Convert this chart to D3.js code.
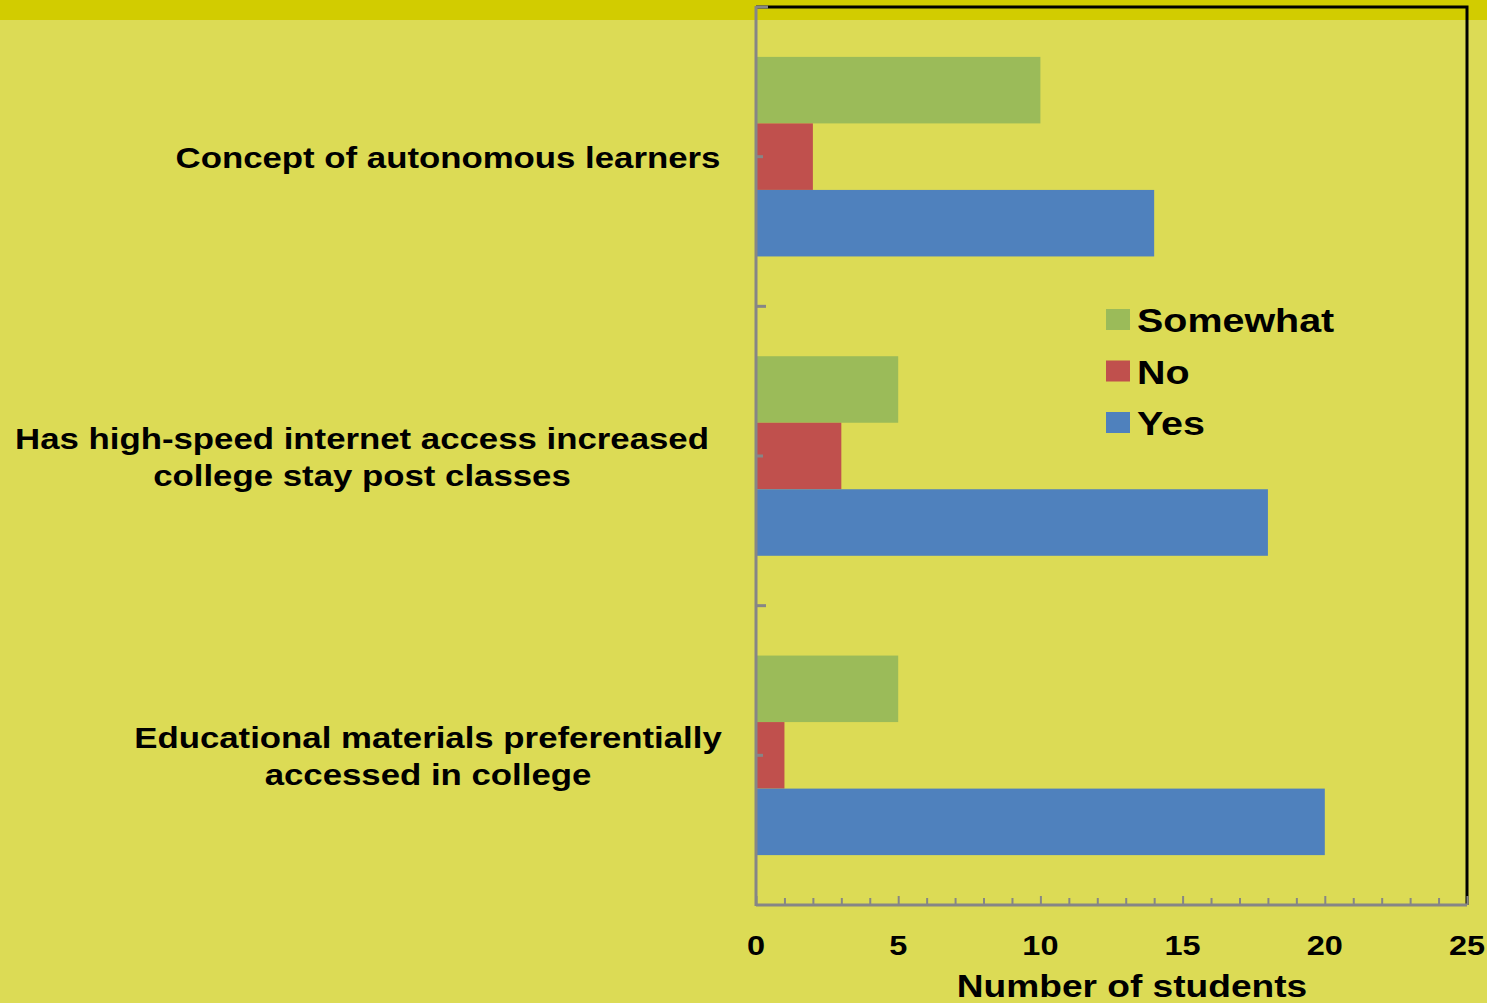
<!DOCTYPE html>
<html><head><meta charset="utf-8">
<script src="https://cdn.jsdelivr.net/npm/d3@7"></script>
<style>
html,body{margin:0;padding:0;background:#dcdb55;overflow:hidden}
text{font-family:"Liberation Sans",Arial,sans-serif;font-weight:bold;fill:#000}
</style></head>
<body><svg id="c" width="1487" height="1003"></svg>
<script>
const categories = [
  ["Concept of autonomous learners"],
  ["Has high-speed internet access increased", "college stay post classes"],
  ["Educational materials preferentially", "accessed in college"]
];
const series = ["Somewhat", "No", "Yes"];
const somewhatValues = [10, 5, 5];
const noValues = [2, 3, 1];
const yesValues = [14, 18, 20];
const xTicks = [0, 5, 10, 15, 20, 25];
const xTitle = "Number of students";
const colors = {Somewhat: "#9bbb59", No: "#c0504d", Yes: "#4f81bd"};
const valuesBySeries = {Somewhat: somewhatValues, No: noValues, Yes: yesValues};

const W = 1487, H = 1003;
const m = {left: 756, right: 1467, top: 7, bottom: 905};
const SX = 1.16; // horizontal text stretch
const svg = d3.select("#c");

svg.append("rect").attr("x",0).attr("y",0).attr("width",W).attr("height",H).attr("fill","#dcdb55");
svg.append("rect").attr("x",0).attr("y",0).attr("width",W).attr("height",20).attr("fill","#d2cc00");

const x = d3.scaleLinear().domain([0,25]).range([m.left, m.right]);
const y0 = d3.scaleBand().domain(d3.range(categories.length)).range([m.top, m.bottom]).padding(0);
const y1 = d3.scaleBand().domain(series).range([0, y0.bandwidth()]).paddingInner(0).paddingOuter(0.75);

function stext(g, tx, ty, str, size, anchor){
  return g.append("text").attr("transform", `translate(${tx},${ty}) scale(${SX},1)`)
    .attr("text-anchor", anchor).style("font-size", size+"px").text(str);
}

// bars
categories.forEach((c, i) => {
  series.forEach(s => {
    svg.append("rect")
      .attr("x", x(0))
      .attr("y", y0(i) + y1(s))
      .attr("width", x(valuesBySeries[s][i]) - x(0))
      .attr("height", y1.bandwidth())
      .attr("fill", colors[s]);
  });
});

// black border top & right
svg.append("path").attr("d", `M${m.left},${m.top}H${m.right}V${m.bottom}`)
  .attr("fill","none").attr("stroke","#000").attr("stroke-width",3);

// axes
const gray = "#868686";
const xAxis = d3.axisBottom(x).tickValues(d3.range(0,26,1)).tickSize(-7).tickFormat("");
const gx = svg.append("g").attr("transform", `translate(0,${m.bottom})`).call(xAxis);
gx.select(".domain").attr("stroke", gray).attr("stroke-width",3).attr("d", `M${m.left},0H${m.right}`);
gx.selectAll(".tick line").attr("stroke", gray).attr("stroke-width",2)
  .attr("y2", d => d % 5 === 0 ? -9 : -7);

xTicks.forEach(t => stext(svg, x(t), 955, String(t), 28, "middle"));

// left axis
const gy = svg.append("g");
gy.append("line").attr("x1",m.left).attr("x2",m.left).attr("y1",m.top-1).attr("y2",m.bottom+1)
  .attr("stroke",gray).attr("stroke-width",3);
d3.range(1, categories.length).forEach(i => {
  const yy = y0(i);
  gy.append("line").attr("x1",m.left).attr("x2",m.left+10).attr("y1",yy).attr("y2",yy).attr("stroke",gray).attr("stroke-width",3);
});
categories.forEach((c,i) => {
  const yy = y0(i) + y0.bandwidth()/2;
  gy.append("line").attr("x1",m.left).attr("x2",m.left+7).attr("y1",yy).attr("y2",yy).attr("stroke",gray).attr("stroke-width",3);
});
svg.append("line").attr("x1",m.left).attr("x2",m.left+12).attr("y1",m.top).attr("y2",m.top).attr("stroke",gray).attr("stroke-width",3);

// category labels
const labelCenters = [448, 362, 428];
categories.forEach((lines, i) => {
  const cy = y0(i) + y0.bandwidth()/2;
  const lh = 37;
  lines.forEach((ln, k) => {
    const ly = cy + (k - (lines.length-1)/2) * lh + 11;
    stext(svg, labelCenters[i], ly, ln, 30, "middle");
  });
});

// x title
stext(svg, 1132, 997, xTitle, 32, "middle");

// legend
series.forEach((s, k) => {
  const ly = 319 + k*51.5;
  svg.append("rect").attr("x",1106).attr("y",ly-10).attr("width",24).attr("height",21).attr("fill",colors[s]);
  stext(svg, 1137, ly+13, s, 34, "start");
});
</script></body></html>
